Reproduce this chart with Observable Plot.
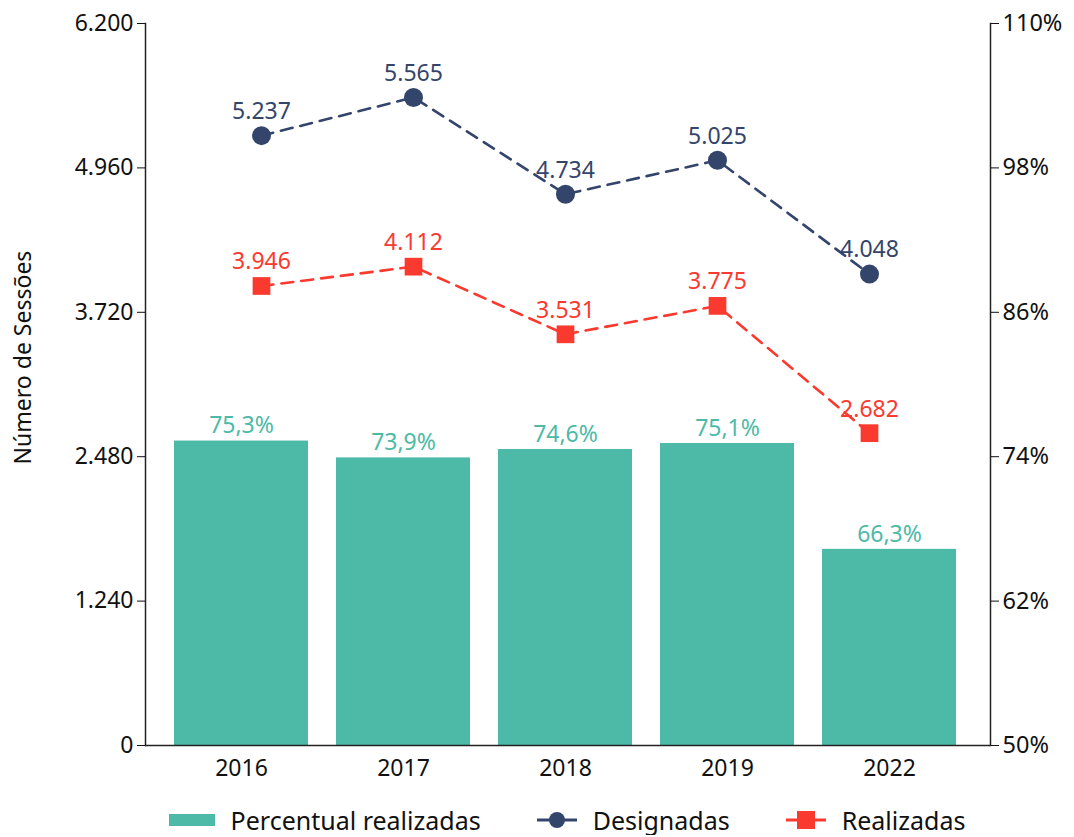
<!DOCTYPE html>
<html><head><meta charset="utf-8">
<script src="https://cdn.jsdelivr.net/npm/d3@7"></script>
<script src="https://cdn.jsdelivr.net/npm/@observablehq/plot@0.6"></script>
<style>
body{margin:0;background:#fff;font-family:"Noto Sans",sans-serif;}
#chart{position:relative;width:1074px;height:792px;}
#chart svg{position:absolute;left:0;top:0;}
#legend{display:flex;justify-content:center;gap:56px;font-size:25px;color:#111;margin-top:13px;padding-left:60px;line-height:30px;}
#legend span{display:flex;align-items:center;gap:16px;}
</style></head>
<body><div id="chart"></div><div id="legend"></div>
<script>
const years = ["2016","2017","2018","2019","2022"];
const designadas = [5237,5565,4734,5025,4048];
const realizadas = [3946,4112,3531,3775,2682];
const percentual = [75.3,73.9,74.6,75.1,66.3];
const leftTicks = [0,1240,2480,3720,4960,6200];
const pctTicks = [50,62,74,86,98,110];
const pctMin = 50, pctMax = 110, yMax = 6200;

const cTeal = "#4DBAA7", cNavy = "#34456B", cRed = "#FA3A2F";
const numFmt = d => d3.format(",")(d).replace(/,/g,".");
const pctFmt = d => d.toFixed(1).replace(".",",")+"%";
const toLeft = p => (p-pctMin)/(pctMax-pctMin)*yMax;

const rows = years.map((y,i)=>({year:y, des:designadas[i], rea:realizadas[i], pct:percentual[i], pctY:toLeft(percentual[i])}));

const common = {
  width:1074, height:792,
  marginLeft:145, marginRight:84, marginTop:23, marginBottom:47,
  style:{fontFamily:"Noto Sans, sans-serif", fontSize:"22px", color:"#111", background:"transparent"}
};

// Base chart: bars and axes
const chart = Plot.plot({
  ...common,
  x:{domain:years, insetLeft:0, insetRight:5, padding:0.17},
  y:{domain:[0,yMax]},
  marks:[
    Plot.barY(rows,{x:"year", y:"pctY", fill:cTeal}),
    Plot.text(rows,{x:"year", y:"pctY", text:d=>pctFmt(d.pct), fill:cTeal, dy:-15, fontSize:23}),
    Plot.ruleY([0],{stroke:"#222", strokeWidth:1.5}),
    Plot.frame({anchor:"left", stroke:"#222", strokeWidth:1.5}),
    Plot.frame({anchor:"right", stroke:"#222", strokeWidth:1.5}),
    Plot.axisY({anchor:"left", ticks:leftTicks, tickFormat:numFmt, tickSize:8, tickPadding:4, fontSize:23, label:null}),
    Plot.text(["Número de Sessões"],{frameAnchor:"left", textAnchor:"middle", rotate:-90, dx:-122, dy:-27, fontSize:23, fill:"#111"}),
    Plot.axisY({anchor:"right", ticks:pctTicks.map(toLeft), tickFormat:d=>Math.round(d/yMax*(pctMax-pctMin)+pctMin)+"%", tickSize:8, tickPadding:4, fontSize:23.5, label:null}),
    Plot.axisX({tickSize:0, tickPadding:14, fontSize:23, label:null})
  ]
});

// Overlay: lines and points (own x positioning as in the original)
const lines = Plot.plot({
  ...common,
  x:{type:"point", domain:years, insetLeft:115, insetRight:120, padding:0, axis:null},
  y:{domain:[0,yMax], axis:null},
  marks:[
    Plot.lineY(rows,{x:"year", y:"des", stroke:cNavy, strokeWidth:2.6, strokeDasharray:"12,8"}),
    Plot.dot(rows,{x:"year", y:"des", fill:cNavy, r:9.5, symbol:"circle"}),
    Plot.text(rows,{x:"year", y:"des", text:d=>numFmt(d.des), fill:cNavy, dy:-24, fontSize:23}),
    Plot.lineY(rows,{x:"year", y:"rea", stroke:cRed, strokeWidth:2.6, strokeDasharray:"12,8"}),
    Plot.dot(rows,{x:"year", y:"rea", fill:cRed, r:10, symbol:"square"}),
    Plot.text(rows,{x:"year", y:"rea", text:d=>numFmt(d.rea), fill:cRed, dy:-24, fontSize:23})
  ]
});
const holder = document.getElementById("chart");
holder.appendChild(chart);
holder.appendChild(lines);

const legendItems = [
  {label:"Percentual realizadas", sw:`<svg width="46" height="16"><rect x="0" y="2" width="46" height="12" fill="${cTeal}"/></svg>`},
  {label:"Designadas", sw:`<svg width="40" height="20"><line x1="0" y1="10" x2="40" y2="10" stroke="${cNavy}" stroke-width="3"/><circle cx="20" cy="10" r="8" fill="${cNavy}"/></svg>`},
  {label:"Realizadas", sw:`<svg width="40" height="20"><line x1="0" y1="10" x2="40" y2="10" stroke="${cRed}" stroke-width="3"/><rect x="11" y="1" width="18" height="18" fill="${cRed}"/></svg>`}
];
document.getElementById("legend").innerHTML = legendItems.map(d=>`<span>${d.sw}${d.label}</span>`).join("");
</script></body></html>
